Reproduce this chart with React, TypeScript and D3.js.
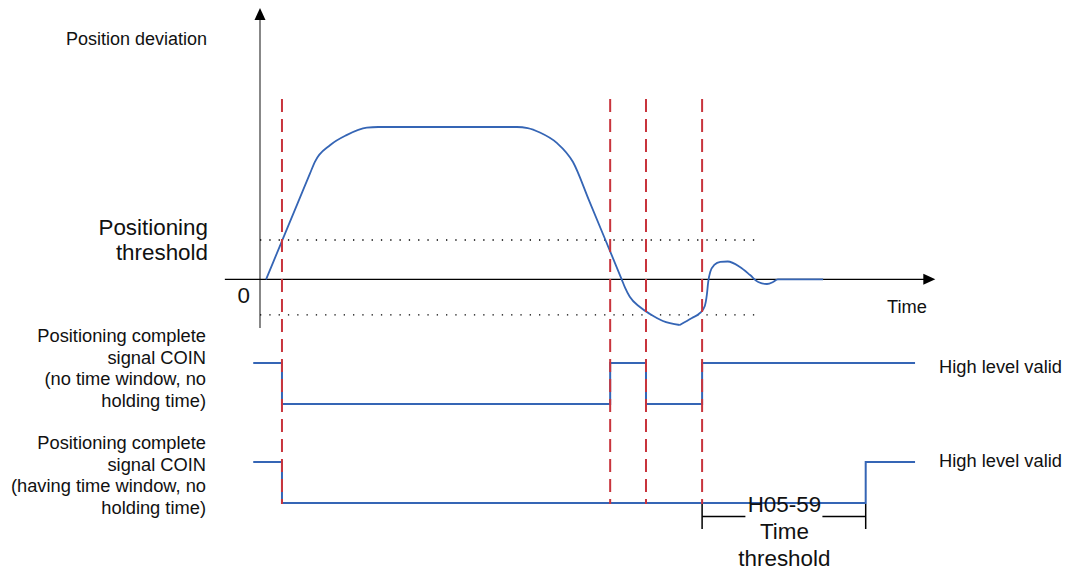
import React from "react";
import * as d3 from "d3";

// ---------- data (time in arbitrary units 0..100, deviation in % of peak) ----------
const curveTimeA = [0.9, 3.2, 5.5, 7.4, 8.1, 10.4, 12.8, 15.8, 17.5, 38.0, 39.6, 41.4, 43.9, 46.3, 48.7, 51.1, 53.5, 54.0, 54.7, 56.2, 57.7, 59.6, 62.1];
const curveDevA = [0, 24.6, 49.2, 69.5, 77, 88.2, 94.7, 99.6, 100, 100, 99.3, 96.4, 89.6, 77, 51.5, 25.8, 0, -5.5, -11.5, -18.2, -22.8, -27.4, -30];
const curveTimeB = [62.1, 63.9, 65.1, 65.8, 66.1, 66.3, 66.6, 67.2, 68.1, 69.2, 71.0, 72.5, 73.7, 75.0, 75.9, 76.6, 83.3];
const curveDevB = [-30, -25.4, -22.1, -17.5, -10.3, -1.8, 4.8, 9.4, 11.4, 11.7, 8.1, 2.8, -1.8, -3.1, -1.8, 0, 0];

const upperThreshold = 25.8;
const lowerThreshold = -23.4;
const thresholdEnd = 73.5;

const markerTimes = [3.25, 51.8, 57.1, 65.4];

const signal1Times = [-1.0, 3.25, 51.8, 57.1, 65.4, 96.9];
const signal1Levels = [1, 0, 1, 0, 1, 1];
const signal2Times = [-1.0, 3.25, 89.6, 96.9];
const signal2Levels = [1, 0, 1, 1];

const windowStart = 65.4;
const windowEnd = 89.6;

const signal1Label = ["Positioning complete", "signal COIN", "(no time window, no", "holding time)"];
const signal2Label = ["Positioning complete", "signal COIN", "(having time window, no", "holding time)"];
const thresholdLabel = ["Positioning", "threshold"];
const windowLabel = ["H05-59", "Time", "threshold"];

// ---------- styles ----------
const BLUE = "#3565b5";
const RED = "#c8343c";
const FONT = "'Liberation Sans', Arial, Helvetica, sans-serif";
const FS = 18.3;
const FL = 22.4;

export default function App() {
  const W = 1075, H = 571;
  const x = d3.scaleLinear().domain([0, 100]).range([260, 936]);
  const yDev = d3.scaleLinear().domain([0, 100]).range([279.3, 127]);
  const yS1 = d3.scaleLinear().domain([0, 1]).range([404, 363]);
  const yS2 = d3.scaleLinear().domain([0, 1]).range([503, 462]);

  const devLine = d3.line<[number, number]>()
    .x(d => x(d[0]))
    .y(d => yDev(d[1]))
    .curve(d3.curveMonotoneX);

  const ptsA = curveTimeA.map((t, i) => [t, curveDevA[i]] as [number, number]);
  const ptsB = curveTimeB.map((t, i) => [t, curveDevB[i]] as [number, number]);

  const step = (ys: d3.ScaleLinear<number, number>) =>
    d3.line<[number, number]>().x(d => x(d[0])).y(d => ys(d[1])).curve(d3.curveStepAfter);

  const s1 = signal1Times.map((t, i) => [t, signal1Levels[i]] as [number, number]);
  const s2 = signal2Times.map((t, i) => [t, signal2Levels[i]] as [number, number]);

  const x0 = x(0);
  const xAxisY = yDev(0);
  const xAxisStart = x(-5.2);
  const xAxisEnd = x(99.9);
  const yAxisTop = 8;
  const yAxisBottom = 328;

  const bracketY = 516.5;
  const bx0 = x(windowStart);
  const bx1 = x(windowEnd);
  const bMid = (bx0 + bx1) / 2 + 0.5;

  return (
    <svg width={W} height={H} style={{ position: "absolute", left: 0, top: 0, background: "#fff" }} fontFamily={FONT}>
      <rect x={0} y={0} width={W} height={H} fill="#fff" />

      {/* axes */}
      <line x1={x0} x2={x0} y1={yAxisBottom} y2={yAxisTop + 10} stroke="#555" strokeWidth={1.4} />
      <path d={`M${x0},${yAxisTop} L${x0 - 5.5},${yAxisTop + 12} L${x0 + 5.5},${yAxisTop + 12} Z`} fill="#000" />
      <line x1={xAxisStart} x2={xAxisEnd - 10} y1={xAxisY} y2={xAxisY} stroke="#000" strokeWidth={1.3} />
      <path d={`M${xAxisEnd},${xAxisY} L${xAxisEnd - 12},${xAxisY - 5.5} L${xAxisEnd - 12},${xAxisY + 5.5} Z`} fill="#000" />

      {/* thresholds */}
      {[upperThreshold, lowerThreshold].map((v, i) => (
        <line key={i} x1={x0} x2={x(thresholdEnd)} y1={yDev(v)} y2={yDev(v)}
          stroke="#000" strokeWidth={1.3} strokeDasharray="1.3,8" />
      ))}

      {/* deviation curve */}
      <path d={devLine(ptsA) || ""} fill="none" stroke={BLUE} strokeWidth={1.8} />
      <path d={devLine(ptsB) || ""} fill="none" stroke={BLUE} strokeWidth={1.8} />

      {/* signals */}
      <path d={step(yS1)(s1) || ""} fill="none" stroke={BLUE} strokeWidth={2} />
      <path d={step(yS2)(s2) || ""} fill="none" stroke={BLUE} strokeWidth={2} />

      {/* marker lines */}
      {markerTimes.map((t, i) => (
        <line key={i} x1={x(t)} x2={x(t)} y1={99} y2={504} stroke={RED} strokeWidth={2}
          strokeDasharray="13,7" />
      ))}

      {/* bracket */}
      <g stroke="#000" strokeWidth={1.5}>
        <line x1={bx0} x2={bx0} y1={504} y2={529} />
        <line x1={bx1} x2={bx1} y1={504} y2={529} />
        <line x1={bx0} x2={bMid - 39} y1={bracketY} y2={bracketY} />
        <line x1={bMid + 38} x2={bx1} y1={bracketY} y2={bracketY} />
      </g>

      {/* texts */}
      <g fill="#111">
        <text x={207} y={44.5} fontSize={18} textAnchor="end">Position deviation</text>
        {thresholdLabel.map((s, i) => (
          <text key={i} x={208} y={234.5 + i * 25.5} fontSize={FL} textAnchor="end">{s}</text>
        ))}
        <text x={250} y={303} fontSize={FL} textAnchor="end">0</text>
        <text x={887} y={313} fontSize={FS}>Time</text>
        {signal1Label.map((s, i) => (
          <text key={i} x={206} y={342 + i * 21.7} fontSize={FS} textAnchor="end">{s}</text>
        ))}
        {signal2Label.map((s, i) => (
          <text key={i} x={206} y={449 + i * 21.7} fontSize={FS} textAnchor="end">{s}</text>
        ))}
        <text x={939} y={373} fontSize={FS}>High level valid</text>
        <text x={939} y={467} fontSize={FS}>High level valid</text>
        {windowLabel.map((s, i) => (
          <text key={i} x={bMid} y={512 + i * 27} fontSize={FL} textAnchor="middle">{s}</text>
        ))}
      </g>
    </svg>
  );
}
